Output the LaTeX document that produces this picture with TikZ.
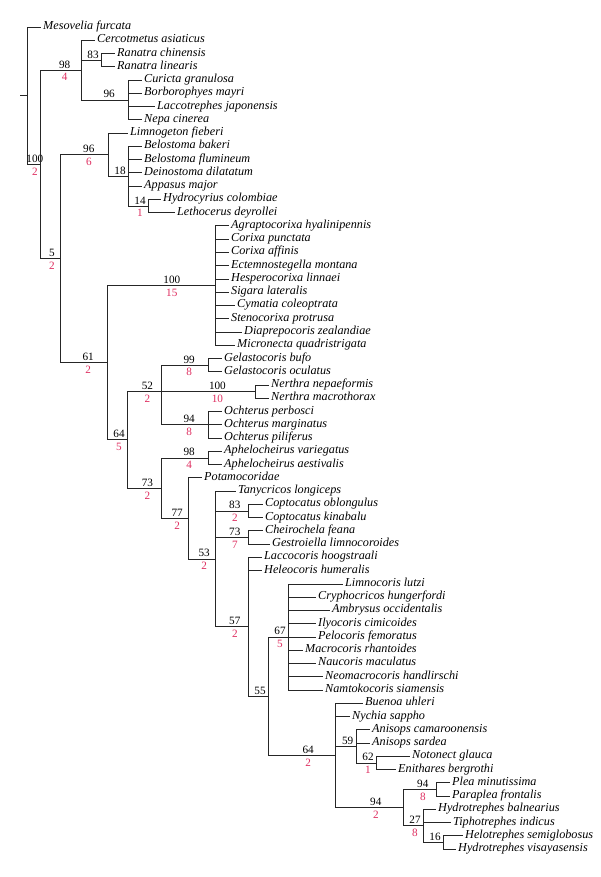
\documentclass[tikz,border=0pt]{standalone}
\usepackage{fontspec}
\setmainfont{Liberation Serif}
\usepackage{tikz}
\usetikzlibrary{calc}
\definecolor{bremer}{RGB}{222,45,95}

\begin{document}
\begin{tikzpicture}[x=1pt,y=-1pt,line join=miter
  ,font=\fontsize{11.2pt}{13pt}\selectfont
  ,br/.style={line width=0.85pt,draw=black!85}
  ,taxon/.style={anchor=west,inner xsep=2.5pt,inner ysep=0pt,
    font=\fontsize{12.2pt}{13pt}\selectfont\itshape,
    text height=0.7em,text depth=0.2em}
  ,bs/.style={pos=0.8,above,inner sep=1.5pt}
  ,bc/.style={pos=0.8,below,inner sep=1pt,yshift=-2pt,text=bremer}]
\useasboundingbox (0,0) rectangle (600,877);
% inner nodes (x of the split, y where the stem joins)
\coordinate (stub)   at (20,95.7);
\coordinate (nRoot)  at (27,95.7);
\coordinate (nAll)   at (40,164.4);
\coordinate (nNepo)  at (81,70.1);
\coordinate (nRan)   at (101,60.15);
\coordinate (nNepi)  at (128,99.93);
\coordinate (nRest)  at (60,258.7);
\coordinate (nBelo)  at (108,154.6);
\coordinate (nBel18) at (128,176.2);
\coordinate (nLeth)  at (148,206.01);
\coordinate (nPan)   at (107,362.75);
\coordinate (nCor)   at (215,285.6);
\coordinate (nOch3)  at (127,439.9);
\coordinate (nGel52) at (161,391.65);
\coordinate (nGel)   at (208,365.1);
\coordinate (nNer)   at (255,391.65);
\coordinate (nOch)   at (208,424.8);
\coordinate (nNauc)  at (161,488.2);
\coordinate (nAph)   at (208,457.95);
\coordinate (nPotam) at (188,518.4);
\coordinate (nNau53) at (215,558.95);
\coordinate (nCop)   at (248,510.99);
\coordinate (nChe)   at (248,537.51);
\coordinate (nNau57) at (248,626.8);
\coordinate (nNau55) at (268,696.2);
\coordinate (nNau67) at (288,636.96);
\coordinate (nNot64) at (335,755.5);
\coordinate (nAni)   at (356,746.36);
\coordinate (nNot62) at (376,762.93);
\coordinate (nPle94) at (403,807.7);
\coordinate (nPlea)  at (436,789.45);
\coordinate (nHel27) at (423,825.9);
\coordinate (nHel16) at (443,842.49);

\draw[br] (stub) -- (nRoot);
\draw[br] (nRoot) |- node[bs]{100} node[bc]{2} (nAll);
\draw[br] (nAll) |- node[bs]{98} node[bc]{4} (nNepo);
\draw[br] (nNepo) |- node[bs]{83} (nRan);
\draw[br] (nNepo) |- node[bs]{96} (nNepi);
\draw[br] (nAll) |- node[bs]{5} node[bc]{2} (nRest);
\draw[br] (nRest) |- node[bs]{96} node[bc]{6} (nBelo);
\draw[br] (nBelo) |- node[bs]{18} (nBel18);
\draw[br] (nBel18) |- node[bs]{14} node[bc]{1} (nLeth);
\draw[br] (nRest) |- node[bs]{61} node[bc]{2} (nPan);
\draw[br] (nPan) |- node[bs]{100} node[bc]{15} (nCor);
\draw[br] (nPan) |- node[bs]{64} node[bc]{5} (nOch3);
\draw[br] (nOch3) |- node[bs]{52} node[bc]{2} (nGel52);
\draw[br] (nGel52) |- node[bs]{99} node[bc]{8} (nGel);
\draw[br] (nGel52) |- node[bs]{100} node[bc]{10} (nNer);
\draw[br] (nGel52) |- node[bs]{94} node[bc]{8} (nOch);
\draw[br] (nOch3) |- node[bs]{73} node[bc]{2} (nNauc);
\draw[br] (nNauc) |- node[bs]{98} node[bc]{4} (nAph);
\draw[br] (nNauc) |- node[bs]{77} node[bc]{2} (nPotam);
\draw[br] (nPotam) |- node[bs]{53} node[bc]{2} (nNau53);
\draw[br] (nNau53) |- node[bs]{83} node[bc]{2} (nCop);
\draw[br] (nNau53) |- node[bs]{73} node[bc]{7} (nChe);
\draw[br] (nNau53) |- node[bs]{57} node[bc]{2} (nNau57);
\draw[br] (nNau57) |- node[bs]{55} (nNau55);
\draw[br] (nNau55) |- node[bs]{67} node[bc]{5} (nNau67);
\draw[br] (nNau55) |- node[bs]{64} node[bc]{2} (nNot64);
\draw[br] (nNot64) |- node[bs]{59} (nAni);
\draw[br] (nAni) |- node[bs]{62} node[bc]{1} (nNot62);
\draw[br] (nNot64) |- node[bs]{94} node[bc]{2} (nPle94);
\draw[br] (nPle94) |- node[bs]{94} node[bc]{8} (nPlea);
\draw[br] (nPle94) |- node[bs]{27} node[bc]{8} (nHel27);
\draw[br] (nHel27) |- node[bs]{16} (nHel16);

% terminal taxa: index / parent / x of the name
\foreach \i/\p/\x/\name in {
  0/nRoot/43/Mesovelia furcata,
  1/nNepo/97/Cercotmetus asiaticus,
  2/nRan/117/Ranatra chinensis,
  3/nRan/117/Ranatra linearis,
  4/nNepi/144/Curicta granulosa,
  5/nNepi/144/Borborophyes mayri,
  6/nNepi/157/Laccotrephes japonensis,
  7/nNepi/144/Nepa cinerea,
  8/nBelo/130/Limnogeton fieberi,
  9/nBel18/144/Belostoma bakeri,
  10/nBel18/144/Belostoma flumineum,
  11/nBel18/144/Deinostoma dilatatum,
  12/nBel18/144/Appasus major,
  13/nLeth/163/Hydrocyrius colombiae,
  14/nLeth/177/Lethocerus deyrollei,
  15/nCor/231/Agraptocorixa hyalinipennis,
  16/nCor/231/Corixa punctata,
  17/nCor/231/Corixa affinis,
  18/nCor/231/Ectemnostegella montana,
  19/nCor/231/Hesperocorixa linnaei,
  20/nCor/231/Sigara lateralis,
  21/nCor/237/Cymatia coleoptrata,
  22/nCor/231/Stenocorixa protrusa,
  23/nCor/244/Diaprepocoris zealandiae,
  24/nCor/237/Micronecta quadristrigata,
  25/nGel/224/Gelastocoris bufo,
  26/nGel/224/Gelastocoris oculatus,
  27/nNer/271/Nerthra nepaeformis,
  28/nNer/271/Nerthra macrothorax,
  29/nOch/224/Ochterus perbosci,
  30/nOch/224/Ochterus marginatus,
  31/nOch/224/Ochterus piliferus,
  32/nAph/224/Aphelocheirus variegatus,
  33/nAph/224/Aphelocheirus aestivalis,
  34/nPotam/204/Potamocoridae,
  35/nNau53/238/Tanycricos longiceps,
  36/nCop/265/Coptocatus oblongulus,
  37/nCop/265/Coptocatus kinabalu,
  38/nChe/265/Cheirochela feana,
  39/nChe/272/Gestroiella limnocoroides,
  40/nNau57/264/Laccocoris hoogstraali,
  41/nNau57/264/Heleocoris humeralis,
  42/nNau67/345/Limnocoris lutzi,
  43/nNau67/318/Cryphocricos hungerfordi,
  44/nNau67/332/Ambrysus occidentalis,
  45/nNau67/318/Ilyocoris cimicoides,
  46/nNau67/318/Pelocoris femoratus,
  47/nNau67/305/Macrocoris rhantoides,
  48/nNau67/318/Naucoris maculatus,
  49/nNau67/325/Neomacrocoris handlirschi,
  50/nNau67/325/Namtokocoris siamensis,
  51/nNot64/365/Buenoa uhleri,
  52/nNot64/352/Nychia sappho,
  53/nAni/372/Anisops camaroonensis,
  54/nAni/372/Anisops sardea,
  55/nNot62/412/Notonect glauca,
  56/nNot62/398/Enithares bergrothi,
  57/nPlea/452/Plea minutissima,
  58/nPlea/452/Paraplea frontalis,
  59/nHel27/438/Hydrotrephes balnearius,
  60/nHel27/453/Tiphotrephes indicus,
  61/nHel16/465/Helotrephes semiglobosus,
  62/nHel16/458/Hydrotrephes visayasensis}
{
  \node[taxon] (t\i) at (\x-2.5,{27+13.26*\i}) {\name};
  \draw[br] (\p) |- (t\i.west);
}

\end{tikzpicture}
\end{document}
